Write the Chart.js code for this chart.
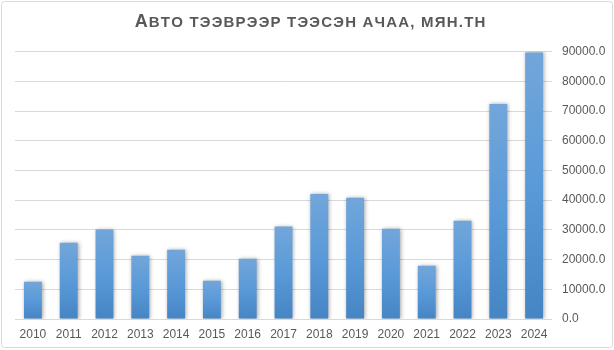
<!DOCTYPE html>
<html>
<head>
<meta charset="utf-8">
<script src="https://cdn.jsdelivr.net/npm/chart.js@4.4.1/dist/chart.umd.min.js"></script>
<style>
  html, body { margin: 0; padding: 0; background: #fff; }
</style>
</head>
<body>
<canvas id="myBarChart" width="614" height="350"></canvas>
<script>
const titleText = "Авто тээврээр тээсэн ачаа, мян.тн";
const years = ["2010", "2011", "2012", "2013", "2014", "2015", "2016", "2017",
  "2018", "2019", "2020", "2021", "2022", "2023", "2024"];
const cargo = [12500, 25700, 30100, 21300, 23300, 12900, 20300, 31100,
  42100, 40800, 30400, 17900, 33100, 72400, 89700];
const yTicks = [0, 10000, 20000, 30000, 40000, 50000, 60000, 70000, 80000, 90000];

const textColor = "#595959";
const gridColor = "#d9d9d9";
const fontFamily = "'Liberation Sans', Arial, sans-serif";

// 外框 + 白底
const framePlugin = {
  id: "frame",
  beforeDraw: function (chart) {
    const ctx = chart.ctx;
    ctx.save();
    ctx.fillStyle = "#fff";
    ctx.fillRect(0, 0, chart.width, chart.height);
    ctx.strokeStyle = "#d9d9d9";
    ctx.lineWidth = 1;
    ctx.beginPath();
    ctx.roundRect(1.5, 1.5, chart.width - 3, chart.height - 4, 3);
    ctx.stroke();
    ctx.restore();
  },
};

// 標題：Excel 式小型大寫（small caps），字距加寬
const titlePlugin = {
  id: "smallCapsTitle",
  afterDraw: function (chart) {
    const ctx = chart.ctx;
    const spacing = 1.2;
    const bigFont = "bold 18px " + fontFamily;
    const smallFont = "bold 15px " + fontFamily;
    const chars = Array.from(titleText).map((ch) => {
      const isUpper = ch !== ch.toLowerCase();
      ctx.font = isUpper ? bigFont : smallFont;
      const shown = ch.toUpperCase();
      return { shown, font: ctx.font, w: ctx.measureText(shown).width };
    });
    const total = chars.reduce((s, c) => s + c.w + spacing, 0) - spacing;
    let x = 310 - total / 2;
    ctx.save();
    ctx.fillStyle = textColor;
    ctx.textAlign = "left";
    ctx.textBaseline = "alphabetic";
    chars.forEach((c) => {
      ctx.font = c.font;
      ctx.fillText(c.shown, x, 27);
      x += c.w + spacing;
    });
    ctx.restore();
  },
};

// 柱子陰影
const shadowPlugin = {
  id: "barShadow",
  beforeDatasetsDraw: function (chart) {
    const ctx = chart.ctx;
    ctx.save();
    ctx.shadowColor = "rgba(0, 0, 0, 0.35)";
    ctx.shadowBlur = 4;
    ctx.shadowOffsetX = 1;
    ctx.shadowOffsetY = 0;
  },
  afterDatasetsDraw: function (chart) {
    chart.ctx.restore();
  },
};

const ctx = document.getElementById("myBarChart").getContext("2d");
const myBarChart = new Chart(ctx, {
  type: "bar",
  data: {
    labels: years,
    datasets: [
      {
        data: cargo,
        backgroundColor: function (context) {
          const chart = context.chart;
          if (!chart.chartArea || context.type !== "data") return "#5b9bd5";
          const yScale = chart.scales.y;
          const top = yScale.getPixelForValue(context.raw);
          const bottom = yScale.getPixelForValue(0);
          const g = chart.ctx.createLinearGradient(0, top, 0, bottom);
          g.addColorStop(0, "#72a6da");
          g.addColorStop(0.5, "#5a9ad8");
          g.addColorStop(1, "#4585c3");
          return g;
        },
        borderWidth: 0,
        categoryPercentage: 1,
        barPercentage: 0.5,
      },
    ],
  },
  options: {
    responsive: false,
    animation: false,
    layout: { padding: { left: 15, right: 0, top: 51.6, bottom: 0 } },
    plugins: {
      legend: { display: false },
      tooltip: { enabled: false },
      title: { display: false },
    },
    scales: {
      x: {
        grid: { display: false },
        border: { display: false },
        ticks: {
          color: textColor,
          padding: 0,
          maxRotation: 0,
          font: { family: fontFamily, size: 12 },
        },
        afterFit: function (scale) {
          scale.height = 31;
        },
      },
      y: {
        position: "right",
        min: 0,
        max: 90000,
        grid: { color: gridColor, drawTicks: false },
        border: { display: false },
        ticks: {
          color: textColor,
          padding: 10,
          font: { family: fontFamily, size: 12 },
          callback: function (value) {
            return value.toFixed(1);
          },
        },
        afterBuildTicks: function (scale) {
          scale.ticks = yTicks.map((v) => ({ value: v }));
        },
        afterFit: function (scale) {
          scale.width = 62;
        },
      },
    },
  },
  plugins: [framePlugin, titlePlugin, shadowPlugin],
});
</script>
</body>
</html>
